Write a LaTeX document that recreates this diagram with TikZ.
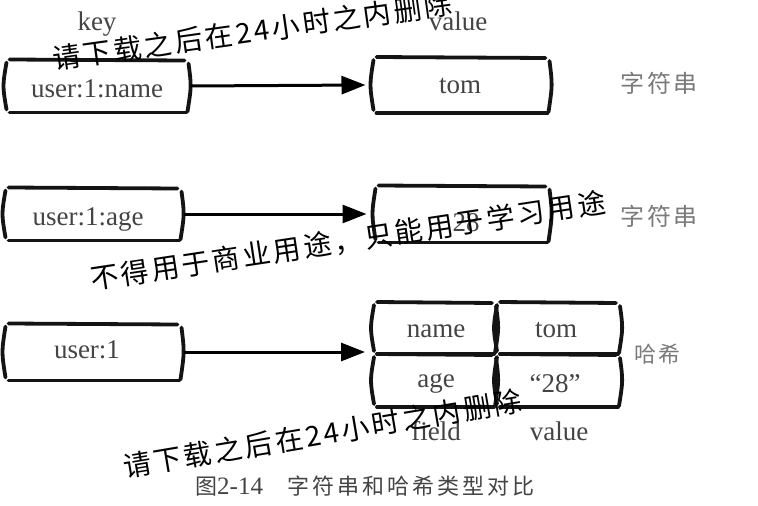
\documentclass[tikz,border=0pt]{standalone}
\usepackage{fontspec}
\setmainfont{Liberation Serif}
\newfontfamily\wmfont[LetterSpace=10]{Noto Sans CJK SC}
\newfontfamily\lblfont[LetterSpace=12]{Noto Sans CJK SC}
\newfontfamily\capfont[LetterSpace=14]{Noto Sans CJK SC}
\usetikzlibrary{arrows.meta}
\definecolor{txtgray}{HTML}{444444}
\definecolor{lblgray}{HTML}{7A7A7A}
\newcommand\mysketchbox[1]{%
 \draw[sk] ([shift={(4pt,0pt)}]#1.north west) -- ([shift={(-4pt,-1pt)}]#1.north east);
 \draw[sk] ([shift={(4pt,0pt)}]#1.south west) -- ([shift={(-2pt,0pt)}]#1.south east);
 \draw[sk] ([shift={(1pt,-3pt)}]#1.north west) .. controls ([shift={(-3pt,0pt)}]#1.west) .. ([shift={(1pt,3pt)}]#1.south west);
 \draw[sk] ([shift={(0pt,-4pt)}]#1.north east) .. controls ([shift={(3pt,0pt)}]#1.east) .. ([shift={(-1pt,1pt)}]#1.south east);
}
\begin{document}
\begin{tikzpicture}[x=1pt,y=-1pt,
  kbox/.style={minimum width=#1, inner sep=0pt, outer sep=0pt},
  sk/.style={line width=3.8pt, line cap=round, black!92},
  txt/.style={text=txtgray, font=\fontsize{27}{27}\selectfont, inner sep=0pt, anchor=base},
  lbl/.style={text=lblgray, font=\lblfont\fontsize{24}{24}\selectfont, inner sep=0pt, anchor=base west},
  wm/.style={text=black, font=\wmfont\fontsize{28}{28}\selectfont, inner sep=0pt, anchor=base west},
  arr/.style={line width=3pt, -{Triangle[length=24pt,width=18pt]}}]
\fill[white] (0,0) rectangle (758,506);
\useasboundingbox (0,0) rectangle (758,506);
% headers
\node[txt] (hkey) at (97,30) {key};
\node[txt] (hval) at (458,30) {value};
% row 1
\node[kbox=183pt, minimum height=53pt] (k1) at (97,86) {};
\node[kbox=177pt, minimum height=56pt] (v1) at (461,85) {};
\mysketchbox{k1}\mysketchbox{v1}
\node[txt] (k1t) at (97,97) {user:1:name};
\node[txt] (v1t) at (460,93) {tom};
\node[lbl] (l1) at (620,92) {字符串};
\draw[arr] ([xshift=2pt]k1.east) -- ([xshift=-7pt]v1.west);
% row 2
\node[kbox=177pt, minimum height=53pt] (k2) at (93,214) {};
\node[kbox=175pt, minimum height=57pt] (v2) at (462,214) {};
\mysketchbox{k2}\mysketchbox{v2}
\node[txt] (k2t) at (88,225) {user:1:age};
\node[txt] (v2t) at (466,231) {28};
\node[lbl] (l2) at (620,225) {字符串};
\draw[arr] ([xshift=2pt]k2.east) -- ([xshift=-8pt]v2.west);
% row 3
\node[kbox=177pt, minimum height=57pt] (k3) at (93,352) {};
\mysketchbox{k3}
\node[txt] (k3t) at (87,358) {user:1};
\node[kbox=123pt, minimum height=52pt] (c11) at (434.5,328) {};
\node[kbox=124pt, minimum height=52pt] (c12) at (558,328) {};
\node[kbox=123pt, minimum height=53pt] (c21) at (434.5,380.5) {};
\node[kbox=124pt, minimum height=53pt] (c22) at (558,380.5) {};
\mysketchbox{c11}\mysketchbox{c12}\mysketchbox{c21}\mysketchbox{c22}
\node[txt] (c11t) at (436,337) {name};
\node[txt] (c12t) at (556,337) {tom};
\node[txt] (c21t) at (436,387) {age};
\node[txt] (c22t) at (555,392) {“28”};
\node[lbl, font=\lblfont\fontsize{22}{22}\selectfont] (l3) at (634,362) {哈希};
\draw[arr] ([xshift=2pt]k3.east) -- ([shift={(-8pt,2pt)}]c11.south west);
\node[txt] (ffield) at (436,440) {field};
\node[txt] (fval) at (559,440) {value};
% caption
\node[text=txtgray, inner sep=0pt, anchor=base west] (cap) at (195,494)
  {{\capfont\fontsize{22}{22}\selectfont 图}{\fontsize{25}{25}\selectfont 2-14}\hspace{24pt}{\capfont\fontsize{22}{22}\selectfont 字符串和哈希类型对比}};
% watermarks
\node[wm, rotate=8] (wm1) at (54,70) {请下载之后在24小时之内删除};
\node[wm, rotate=8.6] (wm2) at (92,290) {不得用于商业用途，只能用于学习用途};
\node[wm, rotate=9.6] (wm3) at (125,478) {请下载之后在24小时之内删除};
\end{tikzpicture}
\end{document}
